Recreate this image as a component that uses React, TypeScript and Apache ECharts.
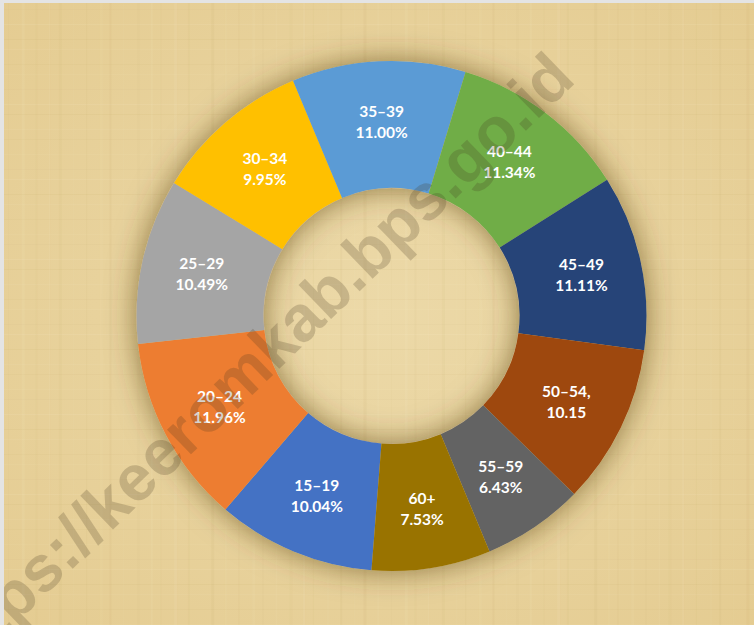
import React, { useEffect, useRef } from "react";
import * as echarts from "echarts";

const categories = ["15–19", "20–24", "25–29", "30–34", "35–39", "40–44", "45–49", "50–54", "55–59", "60+"];
const values = [10.04, 11.96, 10.49, 9.95, 11.0, 11.34, 11.11, 10.15, 6.43, 7.53];
const sliceColors = ["#4472C4", "#ED7D31", "#A5A5A5", "#FFC000", "#5B9BD5", "#70AD47", "#264478", "#9E480E", "#636363", "#997300"];
// label text variants as shown in the source (one slice uses "name,\nvalue" without %)
const labelStyles = ["pct", "pct", "pct", "pct", "pct", "pct", "pct", "comma", "pct", "pct"];
const watermark = "https://keeromkab.bps.go.id";

function textureLines(w: number, h: number) {
  // faint papyrus-like fibres (decoration only)
  const els: any[] = [];
  for (let i = 0; i < 48; i++) {
    const y = 6 + i * 13 + ((i * 7) % 5);
    const a = 0.04 + ((i * 11) % 6) * 0.012;
    els.push({
      type: "rect",
      z: -10,
      silent: true,
      shape: { x: 0, y, width: w, height: 1 + ((i * 3) % 3) },
      style: { fill: i % 2 ? `rgba(255,248,220,${a})` : `rgba(190,160,90,${a})` },
    });
  }
  for (let i = 0; i < 60; i++) {
    const x = 4 + i * 12.7 + ((i * 5) % 4);
    const a = 0.03 + ((i * 13) % 5) * 0.012;
    els.push({
      type: "rect",
      z: -10,
      silent: true,
      shape: { x, y: 0, width: 1 + ((i * 5) % 3), height: h },
      style: { fill: i % 2 ? `rgba(255,248,220,${a})` : `rgba(185,155,85,${a})` },
    });
  }
  return els;
}

export default function App() {
  const ref = useRef<HTMLDivElement>(null);
  useEffect(() => {
    if (!ref.current) return;
    const chart = echarts.init(ref.current, null, { renderer: "svg" });
    const cx = 387.5;
    const cy = 313;
    const data = categories.map((c, i) => ({
      name: c,
      value: values[i],
      itemStyle: { color: sliceColors[i] },
    }));
    chart.setOption({
      animation: false,
      backgroundColor: new echarts.graphic.RadialGradient(0.5, 0.5, 0.75, [
        { offset: 0, color: "#ecd9a8" },
        { offset: 1, color: "#e4cb90" },
      ]),
      graphic: [
        ...textureLines(750, 622),
        {
          type: "text",
          x: 246,
          y: 363,
          rotation: (44 * Math.PI) / 180,
          z: 100,
          silent: true,
          style: {
            text: watermark,
            font: "bold 65px 'Liberation Sans', Arial, sans-serif",
            fill: "rgba(70,55,30,0.22)",
            align: "center",
            verticalAlign: "middle",
          },
        },
      ],
      series: [
        {
          type: "pie",
          silent: true,
          z: 1,
          center: [cx, cy],
          radius: [128, 255],
          data: [{ value: 1, name: "shadow" }],
          itemStyle: {
            color: "#d8bf88",
            shadowBlur: 30,
            shadowColor: "rgba(80,55,10,0.6)",
          },
          label: { show: false },
          labelLine: { show: false },
        },
        {
          type: "pie",
          silent: true,
          z: 2,
          center: [cx, cy],
          radius: [128, 255],
          startAngle: 265.5,
          clockwise: true,
          avoidLabelOverlap: false,
          data,
          itemStyle: { borderWidth: 0 },
          label: {
            show: true,
            position: "inside",
            color: "#ffffff",
            fontFamily: "Lato, 'Open Sans', sans-serif",
            fontWeight: "bold",
            fontSize: 15.5,
            lineHeight: 21,
            formatter: (p: any) =>
              labelStyles[p.dataIndex] === "comma"
                ? `${p.name},\n${p.value.toFixed(2)}`.replace(/0$/, "")
                : `${p.name}\n${p.value.toFixed(2)}%`,
          },
          labelLine: { show: false },
        },
      ],
    });
    return () => chart.dispose();
  }, []);
  return (
    <div style={{ position: "fixed", left: 0, top: 0, width: 754, height: 625, background: "#e4e4e4" }}>
      <div ref={ref} style={{ position: "absolute", left: 4, top: 3, width: 750, height: 622 }} />
    </div>
  );
}
